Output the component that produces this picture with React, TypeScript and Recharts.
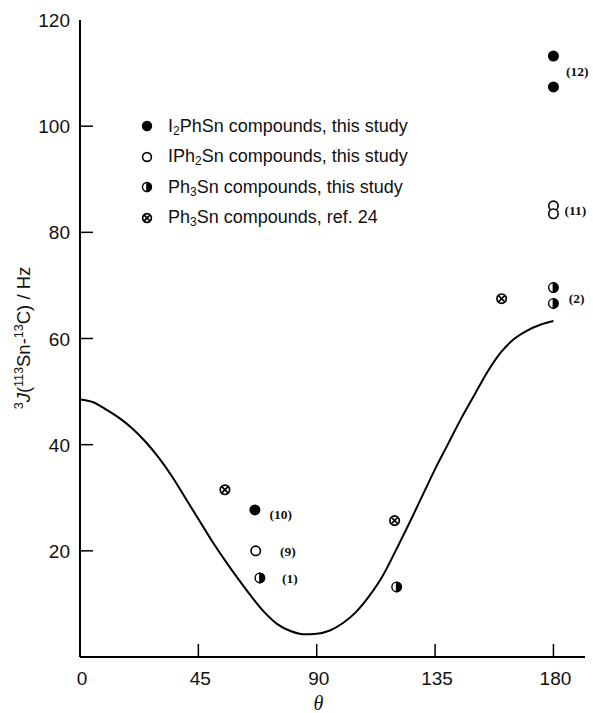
import React from 'react'
import { ComposedChart, Line, Scatter, XAxis, YAxis } from 'recharts'

const FONT = '"Liberation Sans", Arial, Helvetica, sans-serif'
const SERIF = '"Liberation Serif", "Times New Roman", serif'

const xTicks = [0, 45, 90, 135, 180]
const yTicks = [20, 40, 60, 80, 100, 120]

// Karplus-type curve
const curveTheta = [0, 5, 10, 15, 20, 25, 30, 35, 40, 45, 50, 55, 60, 65, 70, 75, 80, 85, 90, 95, 100, 105, 110, 115, 120, 125, 130, 135, 140, 145, 150, 155, 160, 165, 170, 175, 180]
const curveJ = [48.5, 48, 46.6, 45, 43, 40.5, 37.5, 34, 30, 26, 22, 18.3, 14.8, 11.5, 8.5, 6.2, 4.9, 4.3, 4.4, 5, 6.4, 8.5, 11.5, 15.2, 20, 25, 30.2, 35.4, 40.2, 45, 49.4, 53.8, 57.4, 59.9, 61.5, 62.6, 63.3]
const curve = curveTheta.map((t, i) => ({ theta: t, j: curveJ[i] }))

const i2phsn = [{ theta: 66.5, j: 27.7 }, { theta: 180, j: 113.2 }, { theta: 180, j: 107.4 }]
const iph2sn = [{ theta: 66.8, j: 20 }, { theta: 180, j: 85 }, { theta: 180, j: 83.5 }]
const ph3sn = [{ theta: 68.4, j: 14.9 }, { theta: 120.4, j: 13.2 }, { theta: 180, j: 69.6 }, { theta: 180, j: 66.6 }]
const ref24 = [{ theta: 55.1, j: 31.5 }, { theta: 119.6, j: 25.7 }, { theta: 160.3, j: 67.5 }]

const compoundLabels = [
  { theta: 189.1, j: 110.4, text: '(12)' },
  { theta: 188.3, j: 84.3, text: '(11)' },
  { theta: 188.8, j: 67.7, text: '(2)' },
  { theta: 76.3, j: 27, text: '(10)' },
  { theta: 79, j: 20, text: '(9)' },
  { theta: 79.8, j: 14.9, text: '(1)' },
]

type Kind = 'filled' | 'open' | 'half' | 'cross'

const legendItems: { kind: Kind; pre: string; sub: string; post: string }[] = [
  { kind: 'filled', pre: 'I', sub: '2', post: 'PhSn compounds, this study' },
  { kind: 'open', pre: 'IPh', sub: '2', post: 'Sn compounds, this study' },
  { kind: 'half', pre: 'Ph', sub: '3', post: 'Sn compounds, this study' },
  { kind: 'cross', pre: 'Ph', sub: '3', post: 'Sn compounds, ref. 24' },
]

function Mark({ kind, cx, cy, r = 5.5 }: { kind: Kind; cx: number; cy: number; r?: number }) {
  if (kind === 'filled') return <circle cx={cx} cy={cy} r={r} fill="#000" />
  if (kind === 'open') return <circle cx={cx} cy={cy} r={r - 0.8} fill="#fff" stroke="#000" strokeWidth={1.6} />
  if (kind === 'half') {
    return (
      <g>
        <circle cx={cx} cy={cy} r={r - 0.7} fill="#fff" stroke="#000" strokeWidth={1.4} />
        <path d={`M${cx - 0.8},${cy - r} A${r},${r} 0 0 1 ${cx - 0.8},${cy + r} Z`} fill="#000" />
      </g>
    )
  }
  const d = (r - 0.8) * 0.707
  return (
    <g stroke="#000" strokeWidth={1.7} fill="#fff">
      <circle cx={cx} cy={cy} r={r - 0.8} />
      <line x1={cx - d} y1={cy - d} x2={cx + d} y2={cy + d} />
      <line x1={cx - d} y1={cy + d} x2={cx + d} y2={cy - d} />
    </g>
  )
}

const shapeOf = (kind: Kind) => (p: any) => <Mark kind={kind} cx={p.cx} cy={p.cy} />

function XTick({ x, y, payload }: any) {
  return (
    <g>
      {payload.value !== 0 && <line x1={x} y1={y} x2={x} y2={y - 13} stroke="#000" strokeWidth={1.5} />}
      <text x={x + 2} y={y + 28} textAnchor="middle" fontSize={19} fontFamily={FONT} fill="#111">
        {payload.value}
      </text>
    </g>
  )
}

function YTick({ x, y, payload }: any) {
  return (
    <g>
      {payload.value !== 120 && <line x1={x} y1={y} x2={x + 13} y2={y} stroke="#000" strokeWidth={1.5} />}
      <text x={x - 10} y={y + 7} textAnchor="end" fontSize={19} fontFamily={FONT} fill="#111">
        {payload.value}
      </text>
    </g>
  )
}

function YLabel() {
  const cx = 30
  const cy = 338
  return (
    <text transform={`rotate(-90, ${cx}, ${cy})`} x={cx} y={cy} textAnchor="middle" fontSize={18.5} fontFamily={FONT} fill="#111">
      <tspan fontSize={12.5} dy={-7}>3</tspan>
      <tspan dy={7} fontStyle="italic">J</tspan>
      <tspan>(</tspan>
      <tspan fontSize={12.5} dy={-7}>113</tspan>
      <tspan dy={7}>Sn-</tspan>
      <tspan fontSize={12.5} dy={-7}>13</tspan>
      <tspan dy={7}>C) / Hz</tspan>
    </text>
  )
}

function LegendBox() {
  return (
    <div style={{ position: 'absolute', left: 140, top: 111, fontFamily: FONT, fontSize: 18, color: '#111' }}>
      {legendItems.map(it => (
        <div key={it.post + it.pre} style={{ display: 'flex', alignItems: 'center', height: 30.5, whiteSpace: 'nowrap' }}>
          <svg width={14} height={14} style={{ flex: 'none' }}>
            <Mark kind={it.kind} cx={7} cy={7} r={5.2} />
          </svg>
          <span style={{ marginLeft: 14 }}>
            {it.pre}
            <sub style={{ fontSize: 12, verticalAlign: '-3px', lineHeight: 0 }}>{it.sub}</sub>
            {it.post}
          </span>
        </div>
      ))}
    </div>
  )
}

export default function App() {
  return (
    <div style={{ position: 'absolute', left: 0, top: 0, width: 593, height: 713, background: '#fff' }}>
      <ComposedChart width={593} height={713} margin={{ top: 20, right: 8, bottom: 0, left: 0 }}>
        <XAxis
          type="number"
          dataKey="theta"
          domain={[0, 192]}
          ticks={xTicks}
          height={56}
          tickSize={0}
          tickMargin={0}
          tick={<XTick />}
          axisLine={{ stroke: '#000', strokeWidth: 2 }}
          label={{ value: 'θ', position: 'insideBottom', offset: 3, dx: -14, fontSize: 20, fontStyle: 'italic', fontFamily: SERIF, fill: '#111' }}
        />
        <YAxis
          type="number"
          domain={[0, 120]}
          ticks={yTicks}
          width={80}
          tickSize={0}
          tickMargin={0}
          tick={<YTick />}
          axisLine={{ stroke: '#000', strokeWidth: 2 }}
          label={{ content: () => <YLabel /> }}
        />
        <Line data={curve} dataKey="j" type="monotone" stroke="#000" strokeWidth={2} dot={false} isAnimationActive={false} />
        <Scatter data={i2phsn} dataKey="j" shape={shapeOf('filled')} isAnimationActive={false} />
        <Scatter data={iph2sn} dataKey="j" shape={shapeOf('open')} isAnimationActive={false} />
        <Scatter data={ph3sn} dataKey="j" shape={shapeOf('half')} isAnimationActive={false} />
        <Scatter data={ref24} dataKey="j" shape={shapeOf('cross')} isAnimationActive={false} />
        <Scatter
          data={compoundLabels}
          dataKey="j"
          isAnimationActive={false}
          shape={(p: any) => (
            <text x={p.cx} y={p.cy + 5} textAnchor="middle" fontSize={13.5} fontWeight="bold" fontFamily={SERIF} fill="#111">
              {p.payload?.text}
            </text>
          )}
        />
      </ComposedChart>
      <LegendBox />
    </div>
  )
}
